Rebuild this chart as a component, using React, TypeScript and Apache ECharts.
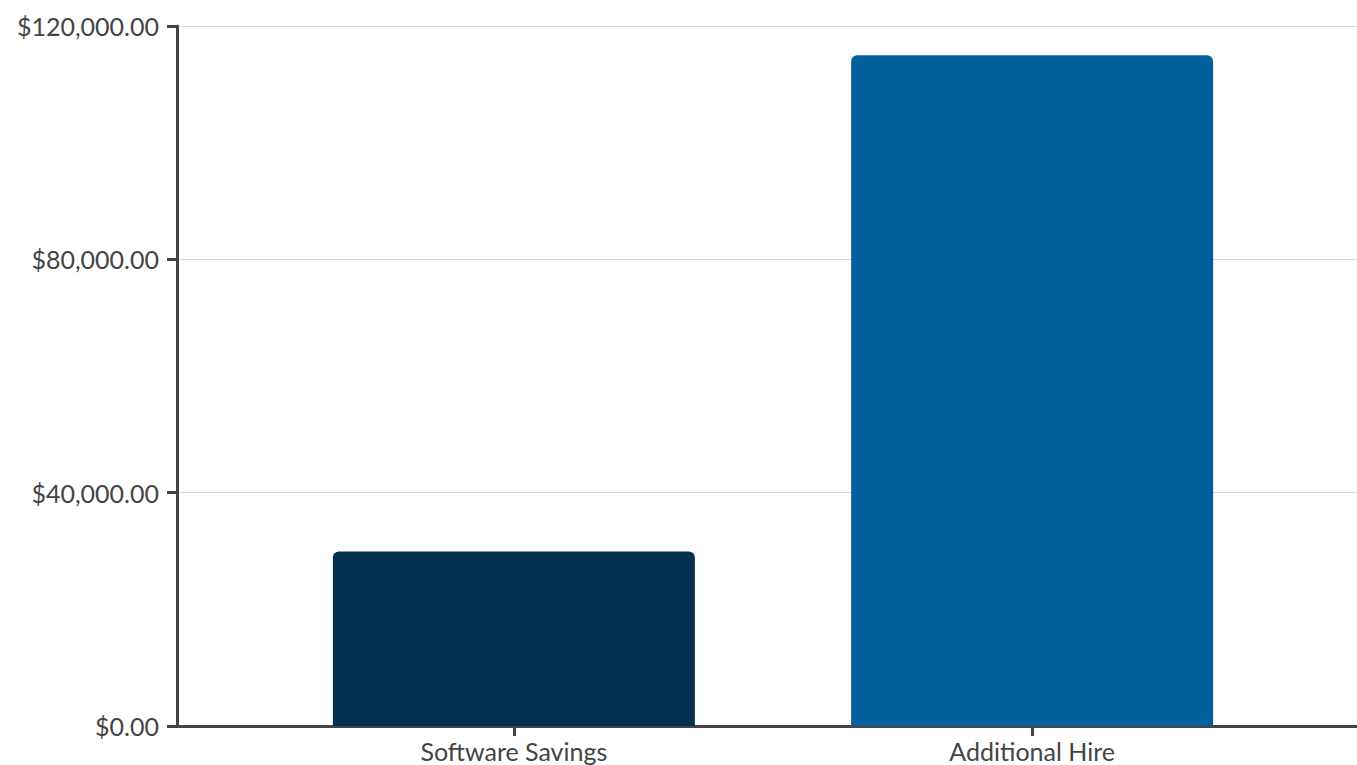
import React, { useEffect, useRef } from "react";
import * as echarts from "echarts";

const categories = ["Software Savings", "Additional Hire"];
const values = [29900, 115000];
const barColors = ["#03304f", "#03609c"];
const yTicks = [0, 40000, 80000, 120000];

export default function App() {
  const ref = useRef<HTMLDivElement>(null);
  useEffect(() => {
    if (!ref.current) return;
    const chart = echarts.init(ref.current, undefined, { renderer: "svg" });
    const font = "Lato, 'Open Sans', sans-serif";
    chart.setOption({
      animation: false,
      grid: { left: 177, right: 0, top: 26, bottom: 54, containLabel: false },
      xAxis: {
        type: "value",
        min: -0.65,
        max: 1.65,
        splitLine: { show: false },
        axisLine: { show: true, onZero: false, lineStyle: { color: "#444", width: 3 } },
        axisTick: { show: true, length: 10, customValues: [0, 1], lineStyle: { color: "#444", width: 3 } },
        axisLabel: {
          customValues: [0, 1],
          formatter: (v: number) => categories[Math.round(v)] ?? "",
          color: "#444",
          fontSize: 25,
          fontFamily: font,
          margin: 12,
        },
      },
      yAxis: {
        type: "value",
        min: 0,
        max: yTicks[yTicks.length - 1],
        interval: yTicks[1] - yTicks[0],
        axisLine: { show: true, onZero: false, lineStyle: { color: "#444", width: 3 } },
        axisTick: { show: true, length: 10, lineStyle: { color: "#444", width: 3 } },
        splitLine: { show: true, lineStyle: { color: "#dcdcdc", width: 1 } },
        axisLabel: {
          color: "#444",
          fontSize: 25,
          fontFamily: font,
          margin: 18,
          formatter: (v: number) =>
            "$" + v.toLocaleString("en-US", { minimumFractionDigits: 2, maximumFractionDigits: 2 }),
        },
      },
      series: [
        {
          type: "bar",
          barWidth: 362,
          data: values.map((v, i) => ({
            value: [i, v],
            itemStyle: { color: barColors[i], borderRadius: [6, 6, 0, 0] },
          })),
        },
      ],
    });
    return () => chart.dispose();
  }, []);
  return (
    <div style={{ position: "absolute", left: 0, top: 0, width: 1357, height: 765, overflow: "hidden", background: "#fff" }}>
      <div ref={ref} style={{ width: 1369, height: 780 }} />
    </div>
  );
}
